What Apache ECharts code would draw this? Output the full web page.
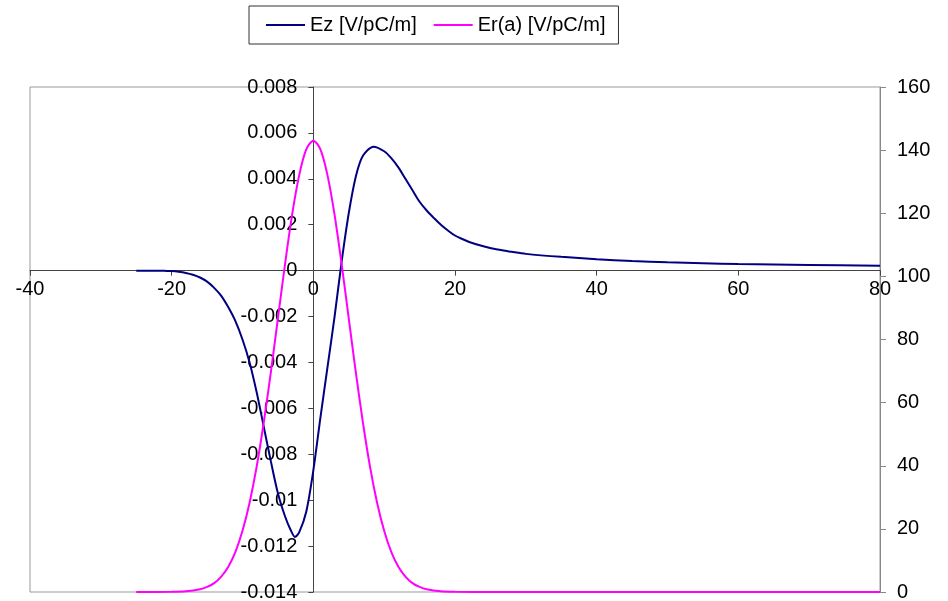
<!DOCTYPE html>
<html>
<head>
<meta charset="utf-8">
<script src="https://cdn.jsdelivr.net/npm/echarts@6/dist/echarts.min.js"></script>
<style>html,body{margin:0;padding:0;background:#fff;}#c{width:948px;height:601px;}</style>
</head>
<body>
<div id="c"></div>
<script>
const ezX = [-25, -24, -23, -22, -21, -20, -19, -18, -17, -16, -15, -14, -13, -12, -11, -10, -9, -8, -7, -6, -5, -4, -3.2, -2.6, -2, -1, 0, 1, 2, 3, 4, 5, 6, 7, 8.5, 10, 11, 12, 13, 14, 15, 16, 17, 18, 19, 20, 21, 22, 24, 26, 28, 30, 35, 40, 45, 50, 55, 60, 70, 80];
const ezY = [0, 0, 0, 0, -0.00001, -0.00002, -0.00005, -0.0001, -0.00018, -0.0003, -0.00048, -0.00075, -0.0011, -0.0016, -0.0022, -0.0030, -0.0040, -0.0053, -0.0068, -0.0083, -0.0097, -0.0107, -0.0113, -0.0116, -0.0114, -0.0105, -0.0087, -0.0064, -0.0042, -0.0020, 0.0004, 0.0025, 0.0041, 0.0050, 0.0054, 0.0052, 0.0049, 0.0045, 0.0040, 0.0035, 0.0030, 0.00262, 0.0023, 0.0020, 0.00175, 0.00153, 0.00138, 0.00125, 0.00106, 0.00092, 0.00082, 0.00073, 0.0006, 0.0005, 0.00042, 0.00036, 0.00032, 0.00029, 0.00025, 0.00021];
const erX = [-25, -20, -18, -16, -15, -14, -13, -12, -11, -10, -9, -8, -7, -6, -5, -4, -3, -2, -1, 0, 1, 2, 3, 4, 5, 6, 7, 8, 9, 10, 11, 12, 13, 14, 15, 16, 18, 20, 25, 30, 40, 50, 60, 70, 80];
const erY = [0, 0.05, 0.22, 0.85, 1.6, 2.8, 4.9, 8.0, 12.7, 19.4, 28.3, 39.7, 53.7, 69.6, 86.7, 103.8, 119.5, 132.0, 140.2, 143.0, 140.2, 132.0, 119.5, 103.8, 86.7, 69.6, 53.7, 39.7, 28.3, 19.4, 12.7, 8.0, 4.9, 2.8, 1.6, 0.85, 0.22, 0.05, 0, 0, 0, 0, 0, 0, 0];
const names = ['Ez [V/pC/m]', 'Er(a) [V/pC/m]'];

const ezData = ezX.map((x, i) => [x, ezY[i]]);
const erData = erX.map((x, i) => [x, erY[i]]);

// grid geometry
const W = 948, H = 601;
const gL = 30, gR = 68, gT = 87, gB = 9;
const xMin = -40, xMax = 80, yMin = -0.014, yMax = 0.008;
const plotW = W - gL - gR, plotH = H - gT - gB;
// place axes through the zero of the other axis
const xAxisOffset = -(plotH * (0 - yMin) / (yMax - yMin));
const yAxisOffset = -(plotW * (0 - xMin) / (xMax - xMin));

const font = 'Arial, "Liberation Sans", sans-serif';
const chart = echarts.init(document.getElementById('c'), null, {renderer: 'canvas'});
chart.setOption({
  animation: false,
  backgroundColor: '#fff',
  textStyle: {fontFamily: font},
  legend: {
    left: 249, top: 6,
    data: names,
    icon: 'rect', itemWidth: 39, itemHeight: 2, itemGap: 17,
    borderColor: '#333', borderWidth: 1,
    padding: [9, 13, 9, 17],
    textStyle: {fontSize: 20, color: '#000', fontFamily: font}
  },
  grid: {left: gL, right: gR, top: gT, bottom: gB, show: true, borderColor: '#999', borderWidth: 1, containLabel: false, outerBoundsMode: 'none'},
  xAxis: {
    type: 'value', min: xMin, max: xMax, interval: 20, position: 'bottom', offset: xAxisOffset,
    axisLine: {onZero: false, lineStyle: {color: '#444', width: 1}},
    axisTick: {length: 5, lineStyle: {color: '#444'}},
    axisLabel: {fontSize: 20, color: '#000', margin: 9, fontFamily: font},
    splitLine: {show: false}
  },
  yAxis: [{
    type: 'value', min: yMin, max: yMax, interval: 0.002, position: 'left', offset: yAxisOffset,
    axisLine: {show: true, onZero: false, lineStyle: {color: '#444', width: 1}},
    axisTick: {show: true, length: 5, lineStyle: {color: '#444'}},
    axisLabel: {fontSize: 20, color: '#000', margin: 16, fontFamily: font},
    splitLine: {show: false}
  }, {
    type: 'value', min: 0, max: 160, interval: 20, position: 'right',
    axisLine: {show: true, onZero: false, lineStyle: {color: '#888', width: 1}},
    axisTick: {show: true, length: 6, lineStyle: {color: '#888'}},
    axisLabel: {fontSize: 20, color: '#000', margin: 17, fontFamily: font},
    splitLine: {show: false}
  }],
  series: [{
    name: names[0], type: 'line', data: ezData, yAxisIndex: 0,
    showSymbol: false, symbol: 'none', smooth: 0.3,
    lineStyle: {color: '#000080', width: 2}, itemStyle: {color: '#000080'}
  }, {
    name: names[1], type: 'line', data: erData, yAxisIndex: 1,
    showSymbol: false, symbol: 'none', smooth: 0.3,
    lineStyle: {color: '#ff00ff', width: 2}, itemStyle: {color: '#ff00ff'}
  }]
});
</script>
</body>
</html>
